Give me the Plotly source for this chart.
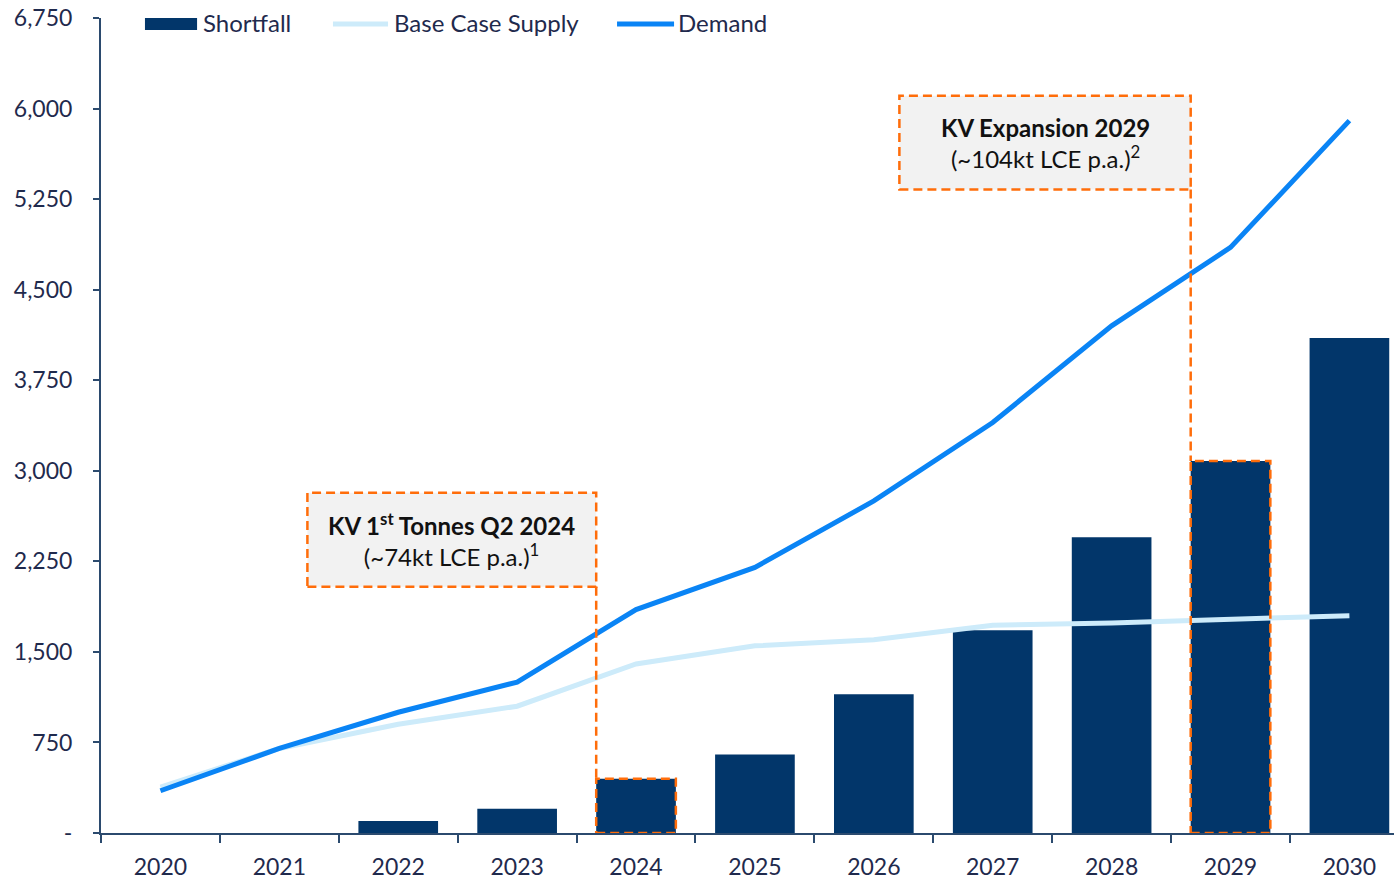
import plotly.graph_objects as go

years = ["2020", "2021", "2022", "2023", "2024", "2025", "2026", "2027", "2028", "2029", "2030"]
shortfall = [-20, 0, 100, 200, 450, 650, 1150, 1680, 2450, 3080, 4100]
supply = [380, 700, 900, 1050, 1400, 1550, 1600, 1720, 1740, 1770, 1800]
demand = [350, 700, 1000, 1250, 1850, 2200, 2750, 3400, 4200, 4850, 5900]
y_ticks = [0, 750, 1500, 2250, 3000, 3750, 4500, 5250, 6000, 6750]
y_ticktext = ["-"] + [f"{v:,}" for v in y_ticks[1:]]
series_names = ["Shortfall", "Base Case Supply", "Demand"]

NAVY = "#02366a"
DEMAND = "#0a84f5"
SUPPLY = "#cdebfa"
ORANGE = "#ff6d0a"
TEXT = "#1f2a4d"
AXIS = "#2b4a6e"
FONT = "Lato"
BAR_W = 0.67

fig = go.Figure()
fig.add_trace(go.Bar(x=years, y=shortfall, name=series_names[0], marker=dict(color=NAVY, line=dict(width=0)),
                     width=BAR_W, cliponaxis=False))
fig.add_trace(go.Scatter(x=years, y=supply, name=series_names[1], mode="lines",
                         line=dict(color=SUPPLY, width=5)))
fig.add_trace(go.Scatter(x=years, y=demand, name=series_names[2], mode="lines",
                         line=dict(color=DEMAND, width=5)))

# call-out boxes: (bar index, box left, box bottom, box top, text)
callouts = [
    (4, 1.236, 2039, 2818, "<b>KV 1<sup>st</sup> Tonnes Q2 2024</b><br>(~74kt LCE p.a.)<sup>1</sup>"),
    (9, 6.215, 5329, 6107, "<b>KV Expansion 2029</b><br>(~104kt LCE p.a.)<sup>2</sup>"),
]
dash = dict(color=ORANGE, width=2.5, dash="9px,5px")
for idx, x0, y0, y1, txt in callouts:
    bl = idx - BAR_W / 2
    br = idx + BAR_W / 2
    fig.add_shape(type="rect", xref="x", yref="y", x0=x0, x1=bl, y0=y0, y1=y1,
                  fillcolor="#f2f2f2", line=dash, layer="above")
    fig.add_shape(type="line", xref="x", yref="y", x0=bl, x1=bl, y0=y0, y1=shortfall[idx],
                  line=dash, layer="above")
    fig.add_shape(type="rect", xref="x", yref="y", x0=bl, x1=br, y0=0, y1=shortfall[idx],
                  line=dash, layer="above")
    fig.add_annotation(xref="x", yref="y", x=(x0 + bl) / 2, y=(y0 + y1) / 2, text=txt,
                       showarrow=False, align="center",
                       font=dict(family=FONT, size=24, color="#111111"))

# custom legend (paper coordinates)
leg_y = 0.9926
fig.add_shape(type="rect", xref="paper", yref="paper", x0=0.034, x1=0.0743, y0=0.9853, y1=1.0,
              fillcolor=NAVY, line=dict(width=0), layer="above")
fig.add_shape(type="line", xref="paper", yref="paper", x0=0.1794, x1=0.2220, y0=leg_y, y1=leg_y,
              line=dict(color=SUPPLY, width=5), layer="above")
fig.add_shape(type="line", xref="paper", yref="paper", x0=0.3991, x1=0.4432, y0=leg_y, y1=leg_y,
              line=dict(color=DEMAND, width=5), layer="above")
for xt, name in zip([0.0773, 0.2251, 0.4447], series_names):
    fig.add_annotation(xref="paper", yref="paper", x=xt, y=leg_y + 0.002, text=name, showarrow=False,
                       xanchor="left", yanchor="middle",
                       font=dict(family=FONT, size=24, color=TEXT))

fig.update_layout(
    width=1394, height=879,
    margin=dict(l=101, r=0, t=18, b=46, autoexpand=False),
    plot_bgcolor="white", paper_bgcolor="white",
    font=dict(family=FONT, size=22, color=TEXT),
    bargap=0.33,
    showlegend=False,
    xaxis=dict(type="category", range=[-0.5, 10.375], showline=True, linecolor=AXIS, linewidth=2,
               ticks="outside", tickson="boundaries", ticklen=8, tickcolor=AXIS, tickwidth=2,
               showgrid=False, zeroline=False, ticklabelstandoff=12, automargin=False,
               tickfont=dict(family=FONT, size=23, color=TEXT)),
    yaxis=dict(range=[0, 6750], tickvals=y_ticks, ticktext=y_ticktext, showline=True,
               linecolor=AXIS, linewidth=2, ticks="outside", ticklen=6, tickcolor=AXIS, tickwidth=2,
               showgrid=False, zeroline=False, ticklabelstandoff=16, automargin=False,
               tickfont=dict(family=FONT, size=23, color=TEXT)),
)

fig.write_html("out.html", config={"displayModeBar": False},
               post_script="document.body.style.margin='0';document.body.style.overflow='hidden';")
